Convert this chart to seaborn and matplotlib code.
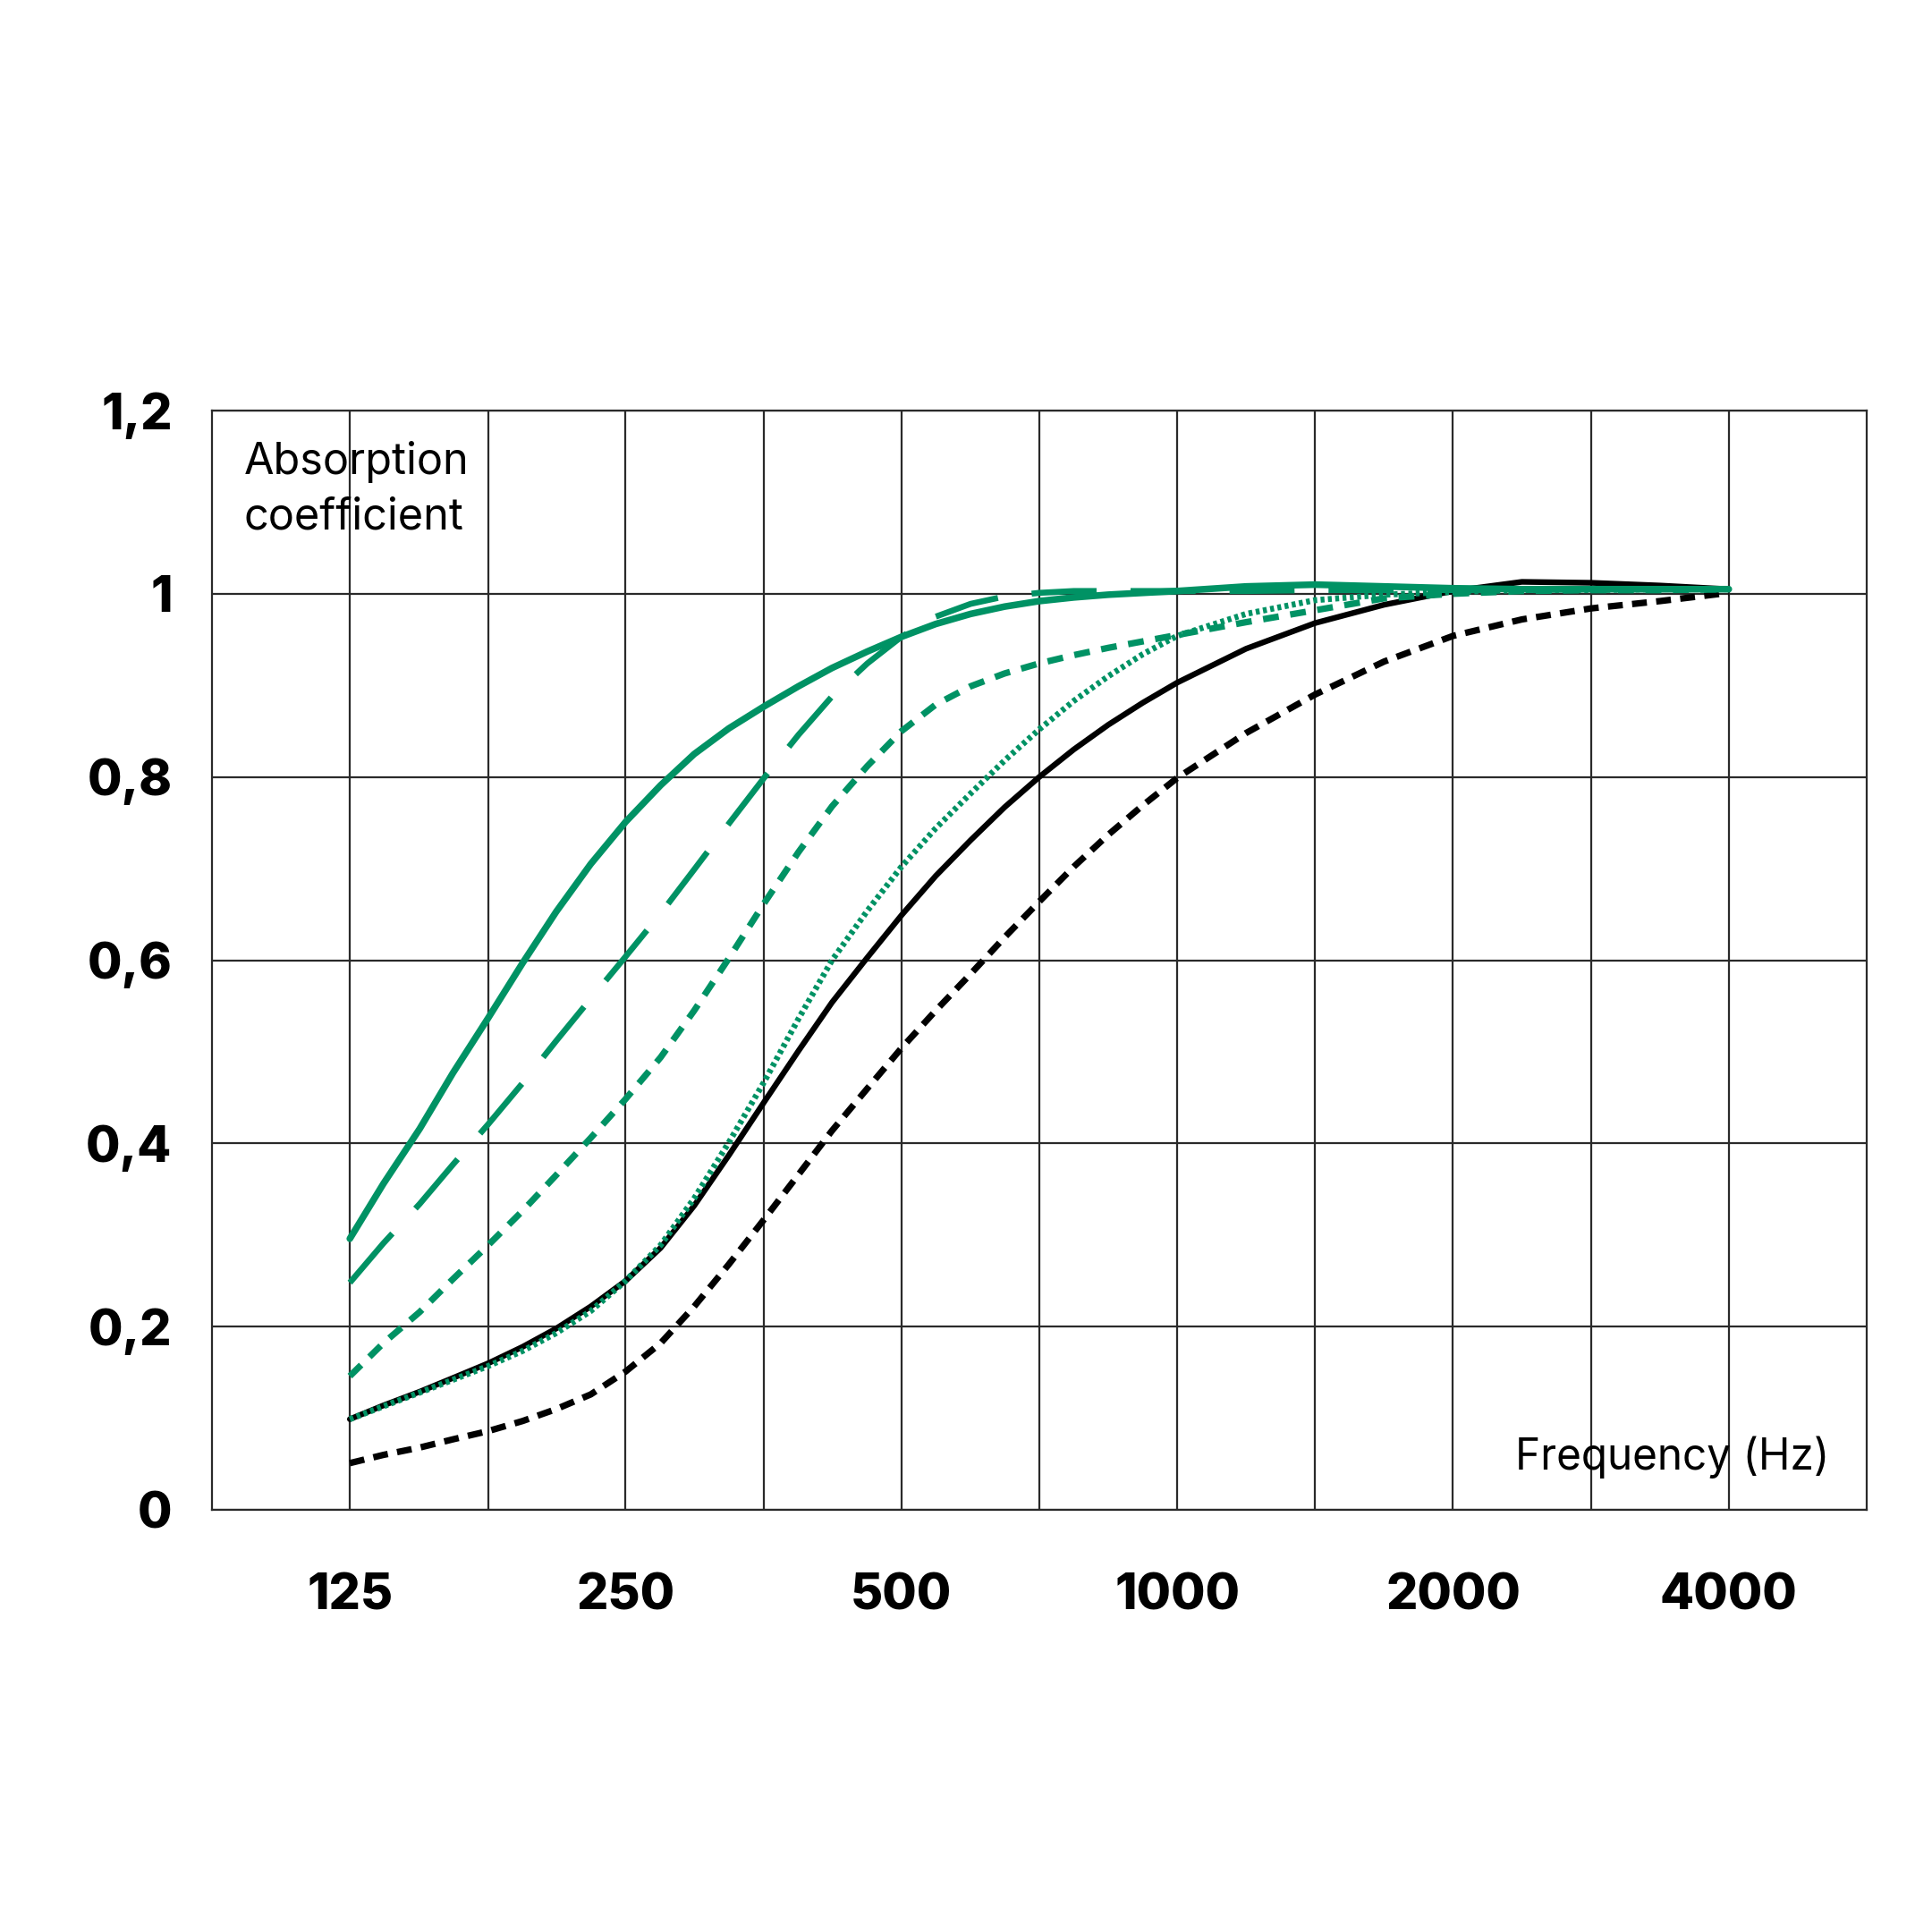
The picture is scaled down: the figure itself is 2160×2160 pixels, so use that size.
import matplotlib
matplotlib.use("Agg")
import matplotlib.pyplot as plt
import seaborn as sns
import pandas as pd
import numpy as np

# ---- data (eighth-octave up to 1 kHz, quarter-octave above) ----
freqs = [125, 136, 149, 162, 177, 193, 210, 229, 250, 273, 297, 324, 354, 386, 420, 459,
         500, 545, 595, 648, 707, 771, 841, 917, 1000, 1189, 1414, 1682, 2000, 2378,
         2828, 3364, 4000]

green_solid = [0.296, 0.356, 0.416, 0.477, 0.537, 0.597, 0.653, 0.705, 0.751, 0.791,
               0.825, 0.853, 0.877, 0.899, 0.919, 0.937, 0.953, 0.967, 0.978, 0.986,
               0.992, 0.996, 0.999, 1.001, 1.003, 1.008, 1.010, 1.008, 1.006, 1.005,
               1.005, 1.005, 1.005]
green_longdash = [0.248, 0.291, 0.334, 0.377, 0.421, 0.466, 0.512, 0.558, 0.604, 0.651,
                  0.699, 0.749, 0.799, 0.846, 0.888, 0.924, 0.953, 0.975, 0.989, 0.997,
                  1.001, 1.003, 1.003, 1.003, 1.003, 1.003, 1.004, 1.004, 1.004, 1.004,
                  1.005, 1.005, 1.005]
green_shortdash = [0.146, 0.182, 0.216, 0.252, 0.289, 0.3265, 0.3655, 0.406, 0.4485, 0.494,
                   0.545, 0.602, 0.662, 0.718, 0.768, 0.812, 0.850, 0.879, 0.899, 0.913,
                   0.924, 0.933, 0.941, 0.948, 0.955, 0.969, 0.982, 0.995, 1.000, 1.003,
                   1.004, 1.004, 1.005]
green_dotted = [0.099, 0.113, 0.128, 0.142, 0.157, 0.1735, 0.193, 0.217, 0.250, 0.289,
                0.340, 0.401, 0.467, 0.536, 0.600, 0.654, 0.702, 0.744, 0.782, 0.818,
                0.852, 0.883, 0.910, 0.934, 0.954, 0.978, 0.993, 0.999, 1.002, 1.004,
                1.004, 1.005, 1.005]
black_solid = [0.099, 0.114, 0.129, 0.144, 0.160, 0.178, 0.198, 0.222, 0.250, 0.286,
               0.332, 0.387, 0.445, 0.501, 0.554, 0.603, 0.649, 0.692, 0.731, 0.767,
               0.800, 0.830, 0.857, 0.881, 0.903, 0.940, 0.968, 0.988, 1.003, 1.013,
               1.012, 1.009, 1.005]
black_dashed = [0.051, 0.060, 0.068, 0.077, 0.086, 0.097, 0.110, 0.126, 0.151, 0.182,
                0.222, 0.268, 0.317, 0.366, 0.414, 0.460, 0.504, 0.545, 0.585, 0.625,
                0.664, 0.702, 0.737, 0.769, 0.799, 0.848, 0.890, 0.926, 0.954, 0.972,
                0.984, 0.992, 1.001]

major_freqs = [125, 250, 500, 1000, 2000, 4000]
minor_freqs = [177, 354, 707, 1414, 2828]
y_ticks = [0, 0.2, 0.4, 0.6, 0.8, 1.0, 1.2]
y_labels = ["0", "0,2", "0,4", "0,6", "0,8", "1", "1,2"]

GREEN = "#009264"
BLACK = "#000000"
GRID = "#2a2a2a"

sns.set_style("white")
plt.rcParams["font.family"] = ["Inter", "DejaVu Sans"]
plt.rcParams["text.color"] = "black"

fig = plt.figure(figsize=(10.8, 10.8), dpi=200)
ax = fig.add_axes([0.1097, 0.2185, 0.8565, 0.569])

series = [
    ("black_dashed", black_dashed, BLACK, 2.6, (0, (2.3, 1.45))),
    ("black_solid", black_solid, BLACK, 2.3, "-"),
    ("green_shortdash", green_shortdash, GREEN, 2.6, (0, (2.45, 1.8))),
    ("green_dotted", green_dotted, GREEN, 2.4, (0, (0.65, 0.58))),
    ("green_longdash", green_longdash, GREEN, 2.4, (0, (10.9, 5.7))),
    ("green_solid", green_solid, GREEN, 2.7, "-"),
]

for name, vals, col, lw, ls in series:
    df = pd.DataFrame({"freq": freqs, "alpha": vals})
    n_before = len(ax.lines)
    sns.lineplot(data=df, x="freq", y="alpha", ax=ax, color=col, linewidth=lw,
                 estimator=None, sort=False)
    line = ax.lines[n_before]
    line.set_linestyle(ls)
    line.set_dash_capstyle("butt")
    line.set_solid_capstyle("round")
    line.set_solid_joinstyle("round")

ax.set_xscale("log", base=2)
ax.set_xlim(125 / np.sqrt(2), 4000 * np.sqrt(2))
ax.set_ylim(0, 1.2)

ax.set_xticks(major_freqs)
ax.set_xticklabels([str(f) for f in major_freqs])
ax.set_xticks(minor_freqs, minor=True)
ax.set_xticklabels([], minor=True)
ax.set_yticks(y_ticks)
ax.set_yticklabels(y_labels)

ax.tick_params(axis="x", which="major", direction="out", length=15.5, width=0.8,
               color=GRID, pad=10, labelsize=20, labelcolor="black")
ax.tick_params(axis="x", which="minor", length=0)
ax.tick_params(axis="y", which="both", length=0, pad=16, labelsize=20, labelcolor="black")
for lab in ax.get_xticklabels() + ax.get_yticklabels():
    lab.set_fontweight("heavy")

ax.grid(True, which="major", axis="both", color=GRID, linewidth=0.8)
ax.grid(True, which="minor", axis="x", color=GRID, linewidth=0.8)
ax.set_axisbelow(True)
for sp in ax.spines.values():
    sp.set_visible(True)
    sp.set_color(GRID)
    sp.set_linewidth(0.8)

ax.set_xlabel("")
ax.set_ylabel("")

ax.text(0.0194, 0.972, "Absorption\ncoefficient", transform=ax.transAxes,
        ha="left", va="top", fontsize=17.5, linespacing=1.42, color="black")
ax.text(0.9777, 0.037, "Frequency (Hz)", transform=ax.transAxes,
        ha="right", va="baseline", fontsize=17.2, color="black")

fig.savefig("out.png", dpi=200, facecolor="white")
